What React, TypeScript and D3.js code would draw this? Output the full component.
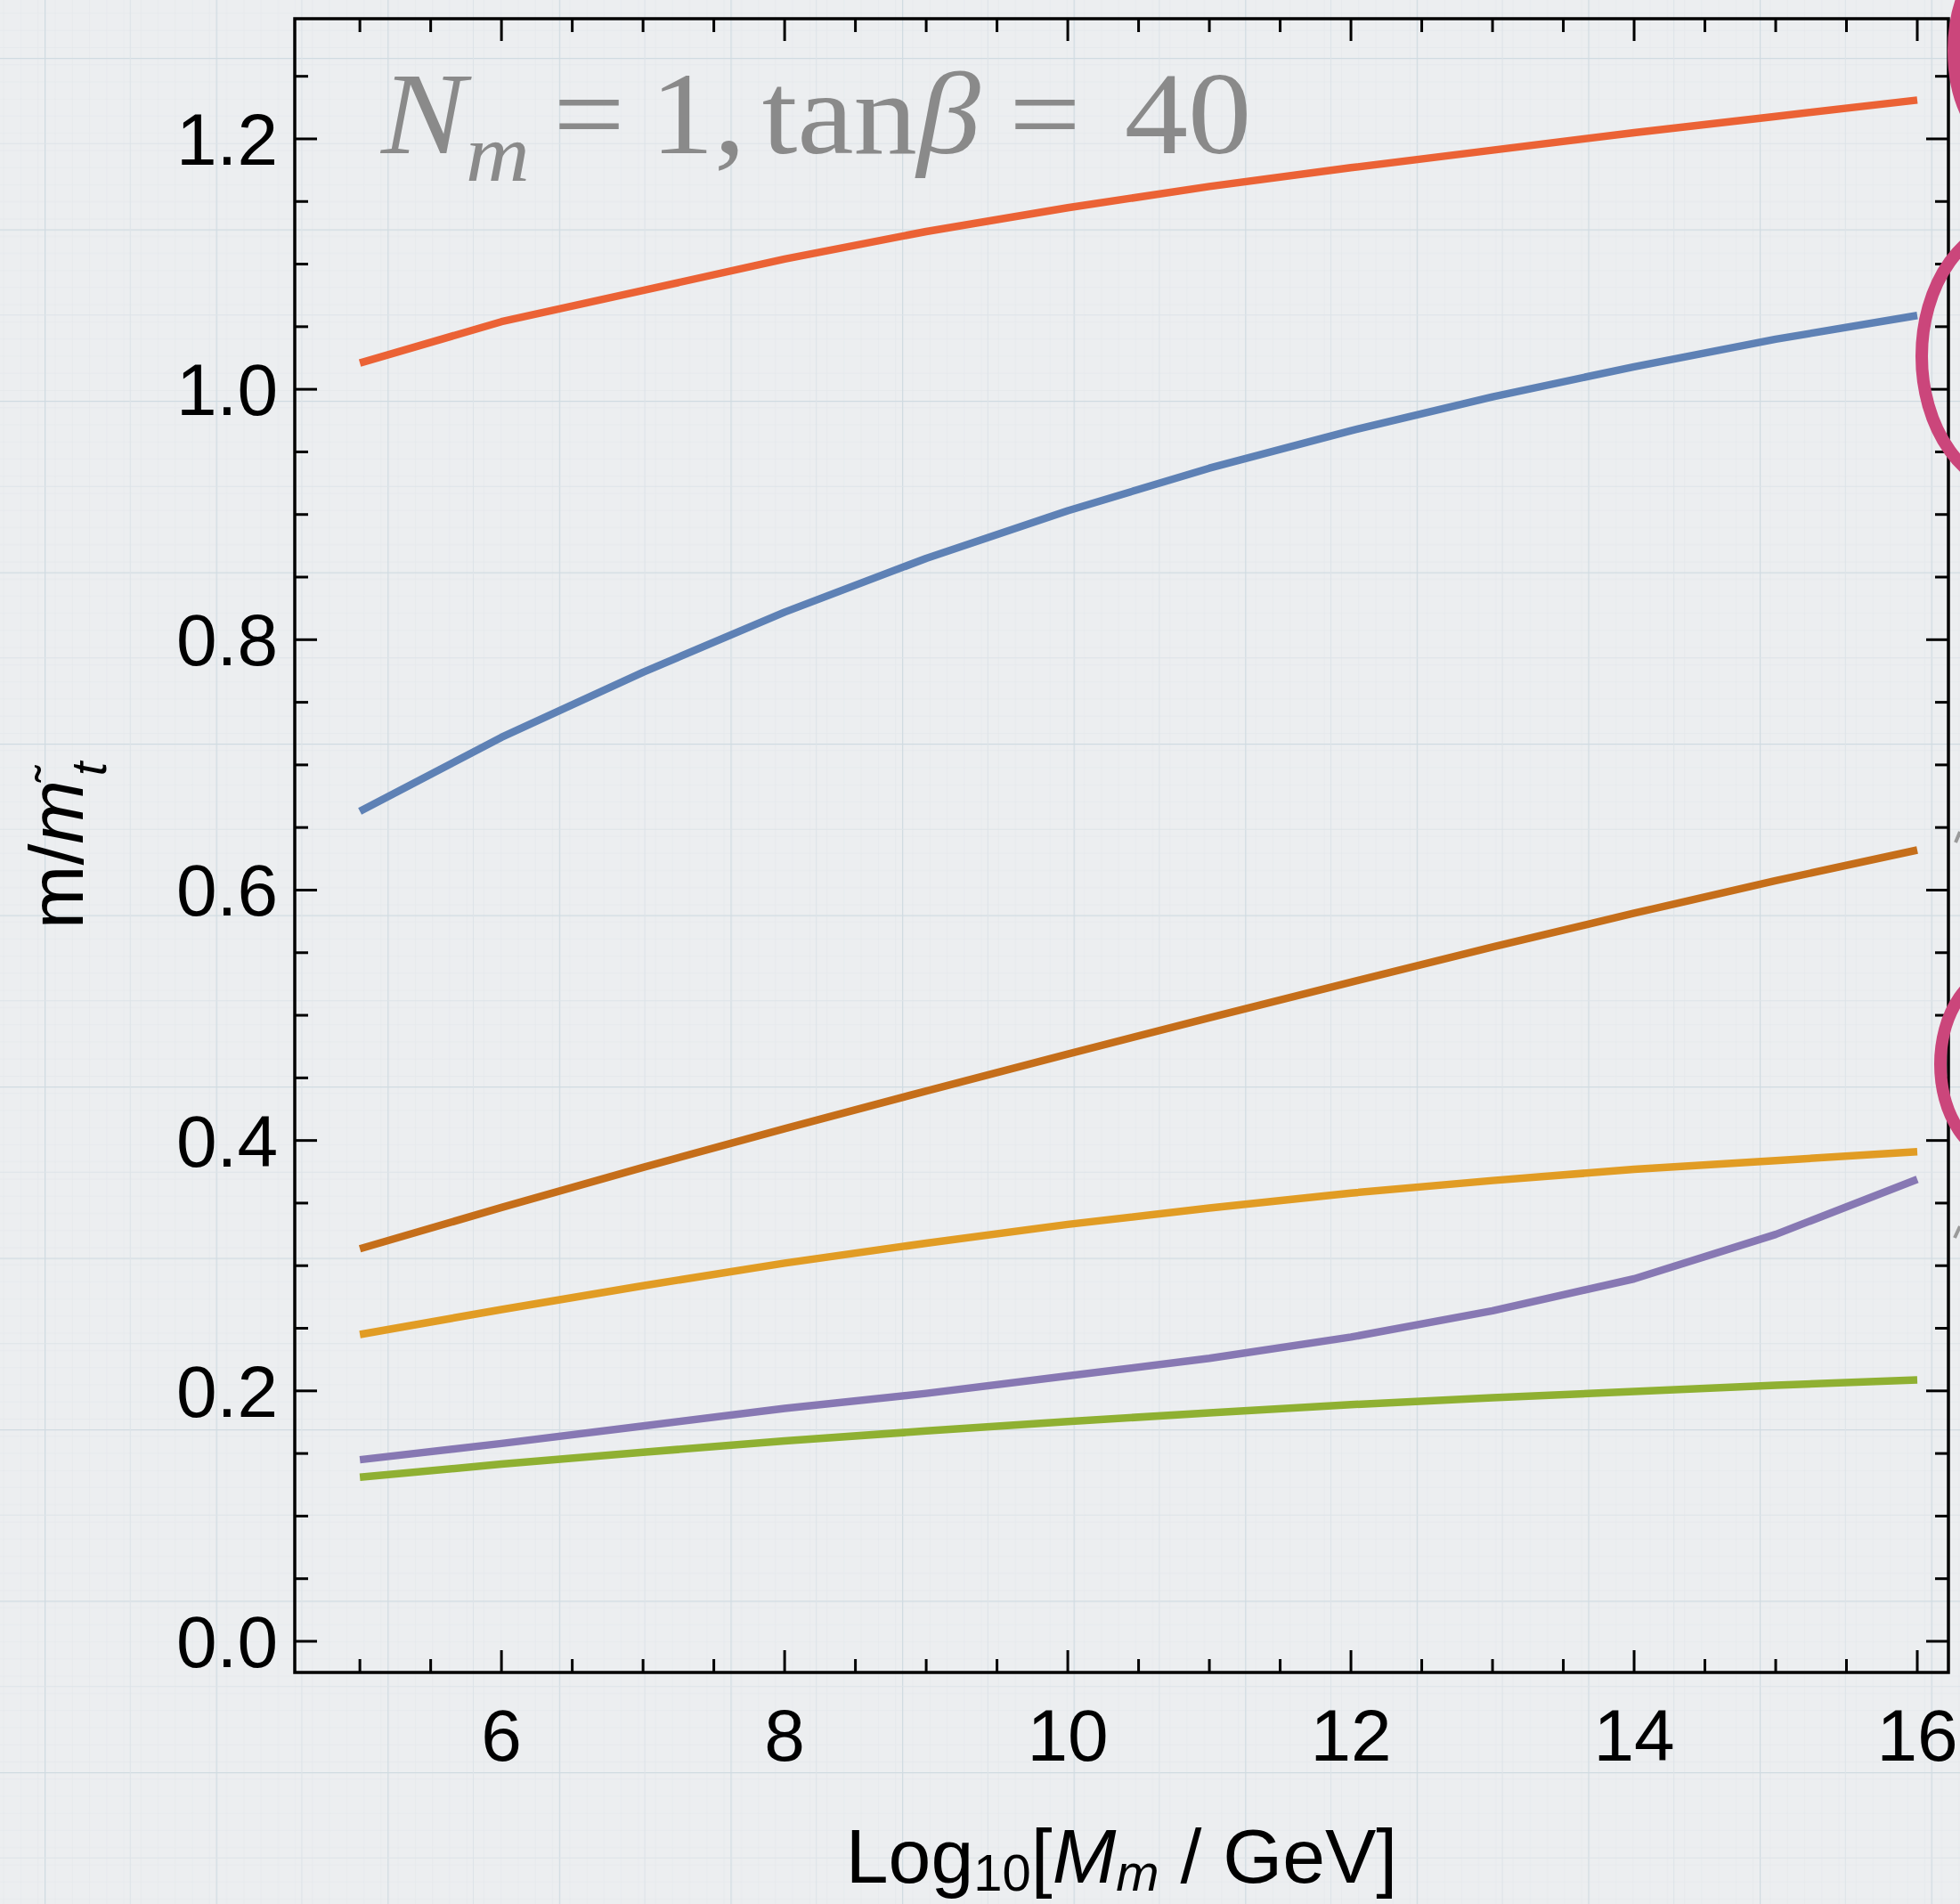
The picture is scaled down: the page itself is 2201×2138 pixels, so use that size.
import * as d3 from "d3";

const W = 2201;
const H = 2138;

// x positions: Log10[M_m / GeV]
const logM = [5, 6, 7, 8, 9, 10, 11, 12, 13, 14, 15, 16];

// m / m_stop, one array per curve
const curveRed = [1.021, 1.054, 1.079, 1.104, 1.126, 1.145, 1.162, 1.177, 1.191, 1.205, 1.218, 1.231];
const curveBlue = [0.663, 0.722, 0.774, 0.822, 0.865, 0.903, 0.937, 0.967, 0.994, 1.018, 1.04, 1.059];
const curveBrown = [0.3135, 0.3465, 0.3785, 0.4095, 0.4395, 0.469, 0.498, 0.5265, 0.5545, 0.5815, 0.6075, 0.632];
const curveYellow = [0.245, 0.265, 0.284, 0.302, 0.318, 0.333, 0.346, 0.358, 0.368, 0.377, 0.384, 0.391];
const curvePurple = [0.145, 0.158, 0.172, 0.186, 0.198, 0.212, 0.226, 0.243, 0.264, 0.2895, 0.325, 0.369];
const curveGreen = [0.131, 0.1415, 0.151, 0.16, 0.168, 0.1755, 0.1825, 0.189, 0.1945, 0.1995, 0.2045, 0.2088];

const curves = [curveRed, curveBlue, curveBrown, curveYellow, curvePurple, curveGreen];
const colors = ["#EB6235", "#5E81B5", "#C56E1A", "#E19C24", "#8778B3", "#8FB032"];

const xTickLabels = ["6", "8", "10", "12", "14", "16"];
const yTickLabels = ["0.0", "0.2", "0.4", "0.6", "0.8", "1.0", "1.2"];

// pink marks cut off at the right edge of the slide: [cx, cy, rx, ry]
const pinkRings = [
  [2254, 57, 60, 108],
  [2266, 400, 108, 150],
  [2252, 1195, 73, 106],
];

const sans = "'Liberation Sans', Arial, Helvetica, sans-serif";
const serif = "'Liberation Serif', 'Times New Roman', serif";

function App() {
  const left = 331, right = 2188, top = 21, bottom = 1878;

  const x = d3.scaleLinear().domain([4.54, 16.22]).range([left, right]);
  const y = d3.scaleLinear().domain([-0.0249, 1.296]).range([bottom, top]);

  const line = d3
    .line<number>()
    .x((d, i) => x(logM[i]))
    .y((d) => y(d));

  const xMajor = xTickLabels.map(Number);
  const xMinor = d3.range(5, 16.01, 0.5).filter((v) => v % 2 !== 0);
  const yMajor = yTickLabels.map(Number);
  const yMinor = d3.range(0.05, 1.29, 0.05).filter((v) => Math.abs(v * 5 - Math.round(v * 5)) > 1e-6);

  const majLen = 25;
  const minLen = 15;

  return (
    <svg
      width={W}
      height={H}
      viewBox={`0 0 ${W} ${H}`}
      style={{ position: "absolute", left: 0, top: 0, display: "block" }}
    >
      <defs>
        <pattern id="fine" width={19.26} height={19.25} patternUnits="userSpaceOnUse" patternTransform="translate(50,65)">
          <path d="M0 0 H19.26 M0 0 V19.25" stroke="#e2e6ea" strokeWidth={1} fill="none" />
        </pattern>
        <pattern id="paper" width={192.6} height={192.5} patternUnits="userSpaceOnUse" patternTransform="translate(50,65)">
          <rect width={192.6} height={192.5} fill="url(#fine)" />
          <path d="M0 0 H192.6 M0 0 V192.5" stroke="#d0dbe1" strokeWidth={2.5} fill="none" />
          <path d="M96.3 0 V192.5 M0 96.25 H192.6" stroke="#dde3e8" strokeWidth={1.2} fill="none" />
        </pattern>
      </defs>

      <rect width={W} height={H} fill="#eceef0" />
      <rect width={W} height={H} fill="url(#paper)" />

      {/* curves */}
      {curves.map((c, i) => (
        <path key={i} d={line(c) ?? ""} fill="none" stroke={colors[i]} strokeWidth={8.5} strokeLinejoin="round" />
      ))}

      {/* frame */}
      <rect x={left} y={top} width={right - left} height={bottom - top} fill="none" stroke="#000" strokeWidth={3.5} />

      {/* ticks on all four sides */}
      <g stroke="#000" strokeWidth={3}>
        {xMajor.map((v) => (
          <g key={"xM" + v}>
            <line x1={x(v)} x2={x(v)} y1={bottom} y2={bottom - majLen} />
            <line x1={x(v)} x2={x(v)} y1={top} y2={top + majLen} />
          </g>
        ))}
        {xMinor.map((v) => (
          <g key={"xm" + v}>
            <line x1={x(v)} x2={x(v)} y1={bottom} y2={bottom - minLen} />
            <line x1={x(v)} x2={x(v)} y1={top} y2={top + minLen} />
          </g>
        ))}
        {yMajor.map((v) => (
          <g key={"yM" + v}>
            <line x1={left} x2={left + majLen} y1={y(v)} y2={y(v)} />
            <line x1={right} x2={right - majLen} y1={y(v)} y2={y(v)} />
          </g>
        ))}
        {yMinor.map((v) => (
          <g key={"ym" + v}>
            <line x1={left} x2={left + minLen} y1={y(v)} y2={y(v)} />
            <line x1={right} x2={right - minLen} y1={y(v)} y2={y(v)} />
          </g>
        ))}
      </g>

      {/* tick labels */}
      <g fontFamily={sans} fontSize={82} fill="#000">
        {xTickLabels.map((t) => (
          <text key={"xl" + t} x={x(+t)} y={1977} textAnchor="middle">
            {t}
          </text>
        ))}
        {yTickLabels.map((t) => (
          <text key={"yl" + t} x={312} y={y(+t) + 29} textAnchor="end">
            {t}
          </text>
        ))}
      </g>

      {/* x axis label */}
      <text x={(left + right) / 2} y={2114} textAnchor="middle" fontFamily={sans} fontSize={86} fill="#000">
        Log
        <tspan fontSize={58} dy={9}>10</tspan>
        <tspan dy={-9}>[</tspan>
        <tspan fontStyle="italic">M</tspan>
        <tspan fontStyle="italic" fontSize={58} dy={9}>m</tspan>
        <tspan dy={-9}> / GeV]</tspan>
      </text>

      {/* y axis label */}
      <text
        transform={`translate(93, ${(top + bottom) / 2}) rotate(-90)`}
        textAnchor="middle"
        fontFamily={sans}
        fontSize={86}
        fill="#000"
      >
        m/
        <tspan fontStyle="italic">m</tspan>
        <tspan fontSize={56} dy={-14} dx={-2}>˜</tspan>
        <tspan fontStyle="italic" fontSize={56} dy={40} dx={-12}>t</tspan>
      </text>

      {/* in-plot title, slightly wide serif like the original */}
      <g transform="translate(428,172) scale(1.08,1)">
        <text x={0} y={0} fontFamily={serif} fontSize={132} fill="#8a8a8a">
          <tspan fontStyle="italic">N</tspan>
          <tspan fontStyle="italic" fontSize={92} dy={31}>m</tspan>
          <tspan x={179} dy={-31}>=</tspan>
          <tspan x={280}>1,</tspan>
          <tspan x={396}>tan</tspan>
          <tspan fontStyle="italic">β</tspan>
          <tspan x={653}>=</tspan>
          <tspan x={773}>40</tspan>
        </text>
      </g>

      {/* cut-off annotations at the right edge */}
      {pinkRings.map(([cx, cy, rx, ry], i) => (
        <ellipse key={"ring" + i} cx={cx} cy={cy} rx={rx} ry={ry} fill="none" stroke="#CB467B" strokeWidth={14} />
      ))}
      <g stroke="#9a9a9a" strokeWidth={4}>
        <line x1={2196} y1={946} x2={2201} y2={934} />
        <line x1={2195} y1={1390} x2={2201} y2={1377} />
      </g>
    </svg>
  );
}

export default App;
